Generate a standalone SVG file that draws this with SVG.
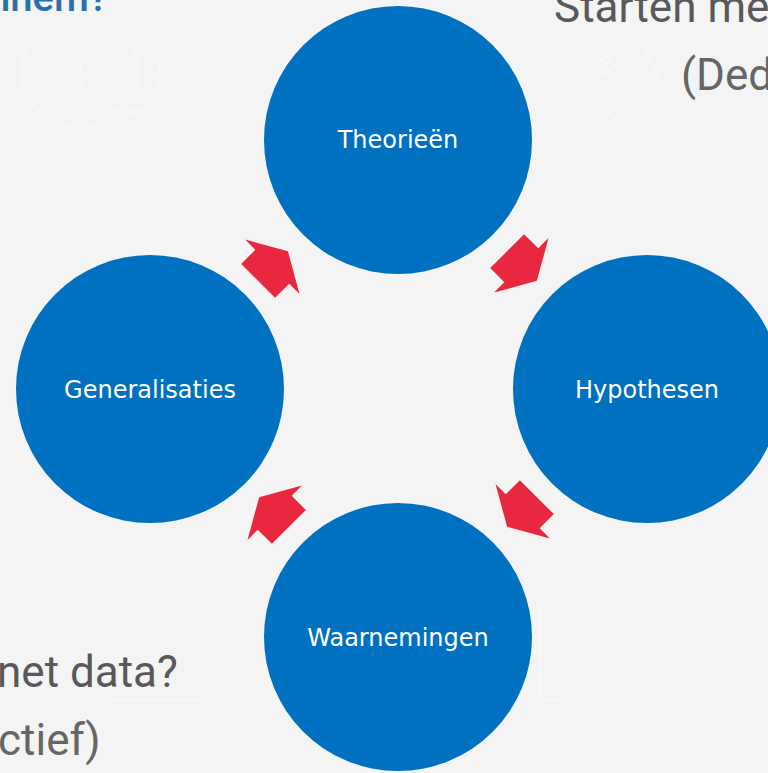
<svg xmlns="http://www.w3.org/2000/svg" xmlns:xlink="http://www.w3.org/1999/xlink" width="768" height="773" viewBox="0 0 768 773">
<style>
.node{fill:#0070C0}
.lbl{font-family:"DejaVu Sans",sans-serif;font-size:24px;fill:#ffffff;text-anchor:middle}
.arrow{fill:#E8283F}
.side{font-family:Roboto,"Liberation Sans",sans-serif;font-size:44px;fill:#595959}
.side2{font-family:Roboto,"Liberation Sans",sans-serif;font-size:44px;fill:#666666}
.title{font-family:Roboto,"Liberation Sans",sans-serif;font-size:40px;font-weight:500;fill:#2A6EAB}
.doodle{fill:none;stroke:#f8f8f8;stroke-width:1.5}
</style>
<defs>
<path id="arr" d="M-21,-24 H-1 V-38.5 L21,0 L-1,38.5 V24 H-21 Z"/>
</defs>
<rect width="768" height="773" fill="#f4f4f4"/>
<g class="doodle">
<circle cx="120" cy="75" r="40"/>
<circle cx="80" cy="70" r="58"/>
<path d="M110 110 H210 M600 60 L640 40 L660 80 Z M590 90 L640 90 L615 120 Z"/>
<path d="M120 700 V640 M110 700 H200"/>
<circle cx="605" cy="65" r="8"/>
<path d="M540 610 H560 V700 H540 Z M720 600 V700 M700 650 H740"/>
</g>
<g id="side-texts">
<text class="title" x="-12" y="11">nhem?</text>
<text class="side" x="554" y="22">Starten me</text>
<text class="side2" x="681" y="90">(Ded</text>
<text class="side" x="-3" y="687">net data?</text>
<text class="side2" x="-2" y="755">ctief)</text>
</g>
<g id="connectors">
<use xlink:href="#arr" class="arrow" transform="translate(273,266) rotate(-45)"/>
<use xlink:href="#arr" class="arrow" transform="translate(522,266) rotate(45)"/>
<use xlink:href="#arr" class="arrow" transform="translate(522,512) rotate(135)"/>
<use xlink:href="#arr" class="arrow" transform="translate(274,512) rotate(-135)"/>
</g>
<g id="node-theorieen">
<circle class="node" cx="398" cy="140" r="134"/>
<text class="lbl" x="398" y="148">Theorieën</text>
</g>
<g id="node-hypothesen">
<circle class="node" cx="647" cy="389" r="134"/>
<text class="lbl" x="647" y="398">Hypothesen</text>
</g>
<g id="node-waarnemingen">
<circle class="node" cx="398" cy="637" r="134"/>
<text class="lbl" x="398" y="646">Waarnemingen</text>
</g>
<g id="node-generalisaties">
<circle class="node" cx="150" cy="389" r="134"/>
<text class="lbl" x="150" y="398">Generalisaties</text>
</g>
</svg>
